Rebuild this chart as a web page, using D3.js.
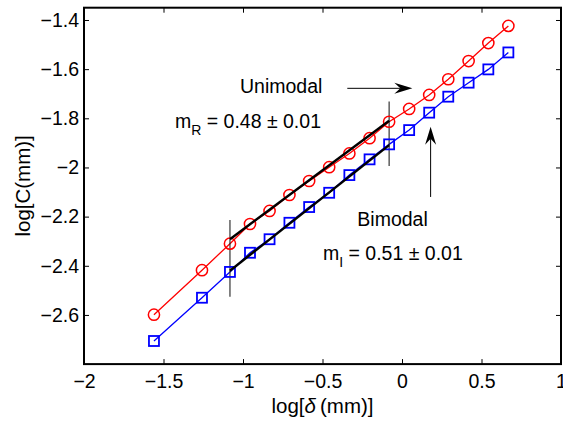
<!DOCTYPE html>
<html><head><meta charset="utf-8">
<script src="https://cdn.jsdelivr.net/npm/d3@7"></script>
<style>
html,body{margin:0;padding:0;background:#fff;}
svg{display:block;}
text{font-family:"Liberation Sans",Arial,Helvetica,sans-serif;fill:#000;}
</style></head>
<body>
<script>
// ---- data ----
const logDelta = [-1.56,-1.258,-1.082,-0.956,-0.833,-0.708,-0.584,-0.458,-0.331,-0.204,-0.081,0.045,0.171,0.291,0.419,0.543,0.669];
const unimodal = [-2.599,-2.418,-2.310,-2.230,-2.177,-2.112,-2.055,-1.999,-1.943,-1.881,-1.814,-1.762,-1.705,-1.641,-1.567,-1.494,-1.424];
const bimodal  = [-2.706,-2.530,-2.425,-2.347,-2.292,-2.225,-2.161,-2.103,-2.031,-1.967,-1.906,-1.848,-1.777,-1.712,-1.655,-1.601,-1.532];
const fitX = [-1.082,-0.081];
const fitUnimodal = [-2.292,-1.810];
const fitBimodal = [-2.420,-1.909];
const fitBoundsY = [[-2.214,-2.526],[-1.732,-1.994]];
const xTicks = [-2,-1.5,-1,-0.5,0,0.5,1];
const xTickLabels = ["\u22122","\u22121.5","\u22121","\u22120.5","0","0.5","1"];
const yTicks = [-2.6,-2.4,-2.2,-2,-1.8,-1.6,-1.4];
const yTickLabels = ["\u22122.6","\u22122.4","\u22122.2","\u22122","\u22121.8","\u22121.6","\u22121.4"];
const xDomain = [-2,1];
const yDomain = [-2.8,-1.35];

const W=563,H=428;
const L=84,R=561,T=7.7,B=364.1;
const svg=d3.select("body").append("svg").attr("width",W).attr("height",H);
const x=d3.scaleLinear().domain(xDomain).range([L,R]);
const y=d3.scaleLinear().domain(yDomain).range([B,T]);

// axes
const fs=19.5;
const gB=svg.append("g").attr("transform",`translate(0,${B})`)
  .call(d3.axisBottom(x).tickValues(xTicks).tickSize(-5).tickPadding(10).tickFormat((d,i)=>xTickLabels[i]));
const gT=svg.append("g").attr("transform",`translate(0,${T})`)
  .call(d3.axisTop(x).tickValues(xTicks).tickSize(-5).tickFormat(""));
const gL=svg.append("g").attr("transform",`translate(${L},0)`)
  .call(d3.axisLeft(y).tickValues(yTicks).tickSize(-5).tickPadding(5).tickFormat((d,i)=>yTickLabels[i]));
const gR=svg.append("g").attr("transform",`translate(${R},0)`)
  .call(d3.axisRight(y).tickValues(yTicks).tickSize(-5).tickFormat(""));
[gB,gT,gL,gR].forEach(g=>{
  g.select(".domain").remove();
  g.selectAll(".tick line").attr("stroke","#000").attr("stroke-width",1);
  g.selectAll("text").attr("font-size",fs).attr("font-family","Liberation Sans, Arial, sans-serif").attr("fill","#000");
});
gB.selectAll("text").attr("dy","0.72em");
svg.append("rect").attr("x",L).attr("y",T).attr("width",R-L).attr("height",B-T)
  .attr("fill","none").attr("stroke","#000").attr("stroke-width",2);

// axis labels
const xl=svg.append("text").attr("x",(L+R)/2).attr("y",413).attr("text-anchor","middle").attr("font-size",20.5);
xl.append("tspan").text("log[");
xl.append("tspan").attr("font-style","italic").text("\u03b4");
xl.append("tspan").text("\u2009(mm)]");
svg.append("text").attr("transform",`translate(30,${(T+B)/2}) rotate(-90)`).attr("text-anchor","middle").attr("font-size",20.5).text("log[C(mm)]");

const line=d3.line().x(d=>x(d[0])).y(d=>y(d[1]));
const plot=svg.append("g");

// data lines
plot.append("path").datum(logDelta.map((v,i)=>[v,unimodal[i]])).attr("d",line).attr("fill","none").attr("stroke","#ff0000").attr("stroke-width",1.3);
plot.append("path").datum(logDelta.map((v,i)=>[v,bimodal[i]])).attr("d",line).attr("fill","none").attr("stroke","#0000ff").attr("stroke-width",1.3);

// fit bounds (thin vertical lines)
fitX.forEach((fx,i)=>{
  plot.append("line").attr("x1",x(fx)).attr("x2",x(fx)).attr("y1",y(fitBoundsY[i][0])).attr("y2",y(fitBoundsY[i][1]))
    .attr("stroke","#222").attr("stroke-width",1.1);
});

// markers
plot.selectAll("circle.u").data(logDelta).join("circle").attr("class","u")
  .attr("cx",d=>x(d)).attr("cy",(d,i)=>y(unimodal[i])).attr("r",5.6)
  .attr("fill","none").attr("stroke","#ff0000").attr("stroke-width",1.5);
const sq=10;
plot.selectAll("rect.b").data(logDelta).join("rect").attr("class","b")
  .attr("x",d=>x(d)-sq/2).attr("y",(d,i)=>y(bimodal[i])-sq/2).attr("width",sq).attr("height",sq)
  .attr("fill","none").attr("stroke","#0000ff").attr("stroke-width",1.8);

// fit lines
plot.append("path").datum(fitX.map((v,i)=>[v,fitUnimodal[i]])).attr("d",line).attr("fill","none").attr("stroke","#000").attr("stroke-width",2.4);
plot.append("path").datum(fitX.map((v,i)=>[v,fitBimodal[i]])).attr("d",line).attr("fill","none").attr("stroke","#000").attr("stroke-width",2.4);

// arrows
function arrow(x1,y1,x2,y2){
  const px1=x(x1),py1=y(y1),px2=x(x2),py2=y(y2);
  const ang=Math.atan2(py2-py1,px2-px1);
  const hl=18,hw=5.5,notch=12;
  const g=svg.append("g");
  g.append("line").attr("x1",px1).attr("y1",py1)
    .attr("x2",px2-Math.cos(ang)*notch).attr("y2",py2-Math.sin(ang)*notch)
    .attr("stroke","#000").attr("stroke-width",1);
  const c=Math.cos(ang),s=Math.sin(ang);
  const pt=(a,b)=>[px2+a*c-b*s,py2+a*s+b*c];
  const pts=[pt(0,0),pt(-hl,-hw),pt(-notch,0),pt(-hl,hw)];
  g.append("path").attr("d","M"+pts.map(p=>p.join(",")).join("L")+"Z").attr("fill","#000");
}
arrow(-0.344,-1.678,0.065,-1.678);
arrow(0.180,-2.120,0.180,-1.834);

// annotation texts
const afs=19.5;
svg.append("text").attr("x",x(-1.019)).attr("y",y(-1.696)).attr("font-size",afs).text("Unimodal");
svg.append("text").attr("x",x(-0.281)).attr("y",y(-2.237)).attr("font-size",afs).text("Bimodal");
function slopeText(xx,yy,sub,val){
  const t=svg.append("text").attr("x",x(xx)).attr("y",y(yy)).attr("font-size",afs);
  t.append("tspan").text("m");
  t.append("tspan").attr("font-size",14).attr("dy",7).text(sub);
  t.append("tspan").attr("dy",-7).text(" = "+val+" \u00b1 0.01");
}
slopeText(-1.428,-1.841,"R","0.48");
slopeText(-0.497,-2.376,"I","0.51");
</script>
</body></html>
